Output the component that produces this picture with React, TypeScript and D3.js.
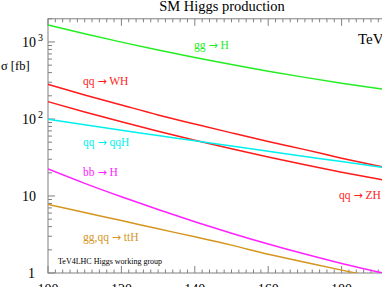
import React from "react";
import * as d3 from "d3";

const masses = [100, 110, 120, 130, 140, 150, 160, 170, 180, 190, 200];
const ggH = [1660, 1278, 996, 787, 629, 510, 418, 347, 292, 249, 215];
const qqWH = [282, 205, 152, 113, 86, 66, 51, 40, 31, 24.5, 19.5];
const qqZH = [168, 123.5, 92, 69.4, 53, 41, 32, 25.4, 20.4, 16.6, 13.6];
const qqH = [99, 84, 71.5, 61, 52, 44.5, 38, 32.5, 28, 24, 20.5];
const bbH = [22.4, 14.6, 9.78, 6.67, 4.64, 3.29, 2.38, 1.76, 1.33, 1.03, 0.81];
const ttH = [7.8, 6.1, 4.8, 3.75, 2.95, 2.3, 1.75, 1.38, 1.09, 0.87, 0.68];

const xTicks = [100, 120, 140, 160, 180, 200];
const yDecades = [1, 10, 100, 1000];

const W = 382;
const H = 287;
const FONT = "'Liberation Serif', 'Times New Roman', serif";
const ARROW_FONT = "'DejaVu Sans', sans-serif";

function Label(props: { x: number; y: number; color: string; a: string; b: string }) {
  return (
    <text x={props.x} y={props.y} fontSize={11.5} fill={props.color}>
      {props.a + " "}
      <tspan fontFamily={ARROW_FONT} fontSize={11}>→</tspan>
      {" " + props.b}
    </text>
  );
}

export default function App() {
  const x = d3.scaleLinear().domain([100, 200]).range([48, 415]);
  const y = d3.scaleLog().domain([1, 2000]).range([273, 18.8]);
  const line = d3
    .line<number>()
    .x((_, i) => x(masses[i]))
    .y((v) => y(v))
    .curve(d3.curveMonotoneX);

  const series = [
    { vals: ggH, color: "#22ee22" },
    { vals: qqWH, color: "#ff1a1a" },
    { vals: qqZH, color: "#ff1a1a" },
    { vals: qqH, color: "#00f0f0" },
    { vals: bbH, color: "#ff22ff" },
    { vals: ttH, color: "#d4961e" },
  ];

  const x0 = x(100), x1 = x(200), yb = y(1), yt = y(2000);
  const frame = "#808080";

  const xMinor = d3.range(100, 201, 2);
  const yMinor: number[] = [];
  for (const dd of [1, 10, 100, 1000]) for (let k = 1; k <= 9; k++) if (dd * k <= 2000) yMinor.push(dd * k);

  return (
    <svg width={W} height={H} style={{ position: "absolute", left: 0, top: 0, background: "#fff" }} fontFamily={FONT}>
      <rect x={0} y={0} width={W} height={H} fill="#fff" />
      <defs>
        <clipPath id="plot">
          <rect x={x0} y={yt} width={x1 - x0} height={yb - yt} />
        </clipPath>
      </defs>
      <text x={222} y={11} textAnchor="middle" fontSize={14.5} fill="#000">SM Higgs production</text>

      {/* frame */}
      <rect x={x0} y={yt} width={x1 - x0} height={yb - yt} fill="none" stroke={frame} strokeWidth={1} />
      {xMinor.map((m) => {
        const major = m % 20 === 0;
        const len = major ? 7 : 3.5;
        return (
          <g key={"xt" + m}>
            <line x1={x(m)} x2={x(m)} y1={yb} y2={yb - len} stroke={frame} />
            <line x1={x(m)} x2={x(m)} y1={yt} y2={yt + len} stroke={frame} />
          </g>
        );
      })}
      {yMinor.map((v) => {
        const major = yDecades.includes(v);
        const len = major ? 7 : 4;
        return <line key={"yt" + v} x1={x0} x2={x0 + len} y1={y(v)} y2={y(v)} stroke={frame} />;
      })}

      {/* curves */}
      <g clipPath="url(#plot)">
        {series.map((s, i) => (
          <path key={i} d={line(s.vals) || ""} fill="none" stroke={s.color} strokeWidth={1.5} />
        ))}
      </g>

      {/* y tick labels */}
      <text x={35} y={y(1) + 5} textAnchor="end" fontSize={14}>1</text>
      <text x={36} y={y(10) + 5} textAnchor="end" fontSize={14}>10</text>
      <text x={36} y={y(100) + 5} textAnchor="end" fontSize={14}>10</text>
      <text x={38} y={y(100) - 1} fontSize={10}>2</text>
      <text x={36} y={y(1000) + 5} textAnchor="end" fontSize={14}>10</text>
      <text x={38} y={y(1000) - 1} fontSize={10}>3</text>
      <text x={1} y={70} fontSize={12.5}>σ [fb]</text>

      {/* x tick labels */}
      {xTicks.map((m) => (
        <text key={"xl" + m} x={x(m)} y={294} textAnchor="middle" fontSize={14}>{m}</text>
      ))}

      {/* curve labels */}
      <Label x={194} y={48.5} color="#22ee22" a="gg" b="H" />
      <Label x={83} y={85} color="#ff1a1a" a="qq" b="WH" />
      <Label x={83} y={146} color="#00f0f0" a="qq" b="qqH" />
      <Label x={83} y={176} color="#ff22ff" a="bb" b="H" />
      <Label x={339} y={199} color="#ff1a1a" a="qq" b="ZH" />
      <Label x={83} y={241} color="#d4961e" a="gg,qq" b="ttH" />
      <text x={58} y={264} fontSize={8} fill="#000">TeV4LHC Higgs working group</text>
      <text x={358} y={44} fontSize={15} fill="#000">TeVatron</text>
    </svg>
  );
}
